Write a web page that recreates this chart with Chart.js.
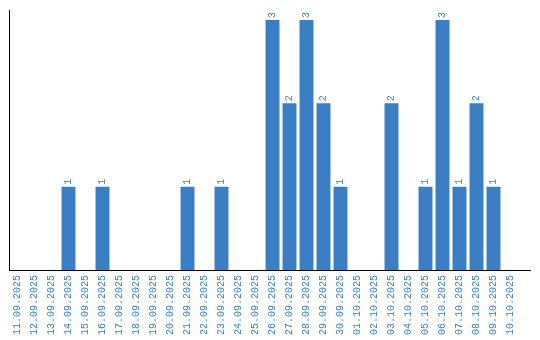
<!DOCTYPE html>
<html>
<head>
<meta charset="utf-8">
<script src="https://cdn.jsdelivr.net/npm/chart.js@4"></script>
<style>
  body { margin: 0; background: #fff; }
  canvas { display: block; }
</style>
</head>
<body>
<canvas id="dayChart" width="540" height="340"></canvas>
<script>
// categories (days) and counts per day
const days = ['11.09.2025', '12.09.2025', '13.09.2025', '14.09.2025', '15.09.2025', '16.09.2025',
  '17.09.2025', '18.09.2025', '19.09.2025', '20.09.2025', '21.09.2025', '22.09.2025', '23.09.2025',
  '24.09.2025', '25.09.2025', '26.09.2025', '27.09.2025', '28.09.2025', '29.09.2025', '30.09.2025',
  '01.10.2025', '02.10.2025', '03.10.2025', '04.10.2025', '05.10.2025', '06.10.2025', '07.10.2025',
  '08.10.2025', '09.10.2025', '10.10.2025'];
const counts = [0, 0, 0, 1, 0, 1, 0, 0, 0, 0, 1, 0, 1, 0, 0, 3, 2, 3, 2, 1, 0, 0, 2, 0, 1, 3, 1, 2, 1, 0];

const blue = '#3b7ec3';
const monoFont = '"Liberation Mono", "DejaVu Sans Mono", monospace';

// value labels above the bars, rotated
const barLabels = {
  id: 'barLabels',
  afterDatasetsDraw(chart) {
    const ctx = chart.ctx;
    const meta = chart.getDatasetMeta(0);
    ctx.save();
    ctx.fillStyle = blue;
    ctx.font = '10px ' + monoFont;
    ctx.textAlign = 'left';
    ctx.textBaseline = 'middle';
    meta.data.forEach((bar, i) => {
      if (!counts[i]) return;
      ctx.save();
      ctx.translate(bar.x, bar.y - 2);
      ctx.rotate(-Math.PI / 2);
      ctx.fillText(String(counts[i]), 0, 0);
      ctx.restore();
    });
    ctx.restore();
  }
};

// x axis line runs a bit past the last category
const axisTail = {
  id: 'axisTail',
  afterDraw(chart) {
    const ctx = chart.ctx;
    const a = chart.chartArea;
    ctx.save();
    ctx.strokeStyle = '#000';
    ctx.lineWidth = 1;
    ctx.beginPath();
    ctx.moveTo(a.right, a.bottom + 0.5);
    ctx.lineTo(531, a.bottom + 0.5);
    ctx.stroke();
    ctx.restore();
  }
};

new Chart(document.getElementById('dayChart').getContext('2d'), {
  type: 'bar',
  data: {
    labels: days,
    datasets: [{
      data: counts,
      backgroundColor: blue,
      borderWidth: 0,
      categoryPercentage: 1,
      barPercentage: 0.82
    }]
  },
  options: {
    responsive: false,
    animation: false,
    layout: { padding: { left: 9, right: 21, top: 10, bottom: 0 } },
    plugins: { legend: { display: false }, tooltip: { enabled: false } },
    scales: {
      x: {
        grid: { display: false, drawTicks: false },
        border: { display: true, color: '#000', width: 1 },
        ticks: {
          autoSkip: false,
          minRotation: 90,
          maxRotation: 90,
          padding: 5,
          color: blue,
          font: { family: monoFont, size: 10 }
        },
        afterFit(scale) { scale.height = 70; }
      },
      y: {
        min: 0,
        max: 3.12,
        grid: { display: false, drawTicks: false },
        border: { display: true, color: '#000', width: 1 },
        ticks: { display: false },
        afterFit(scale) { scale.width = 0; }
      }
    }
  },
  plugins: [barLabels, axisTail]
});
</script>
</body>
</html>
